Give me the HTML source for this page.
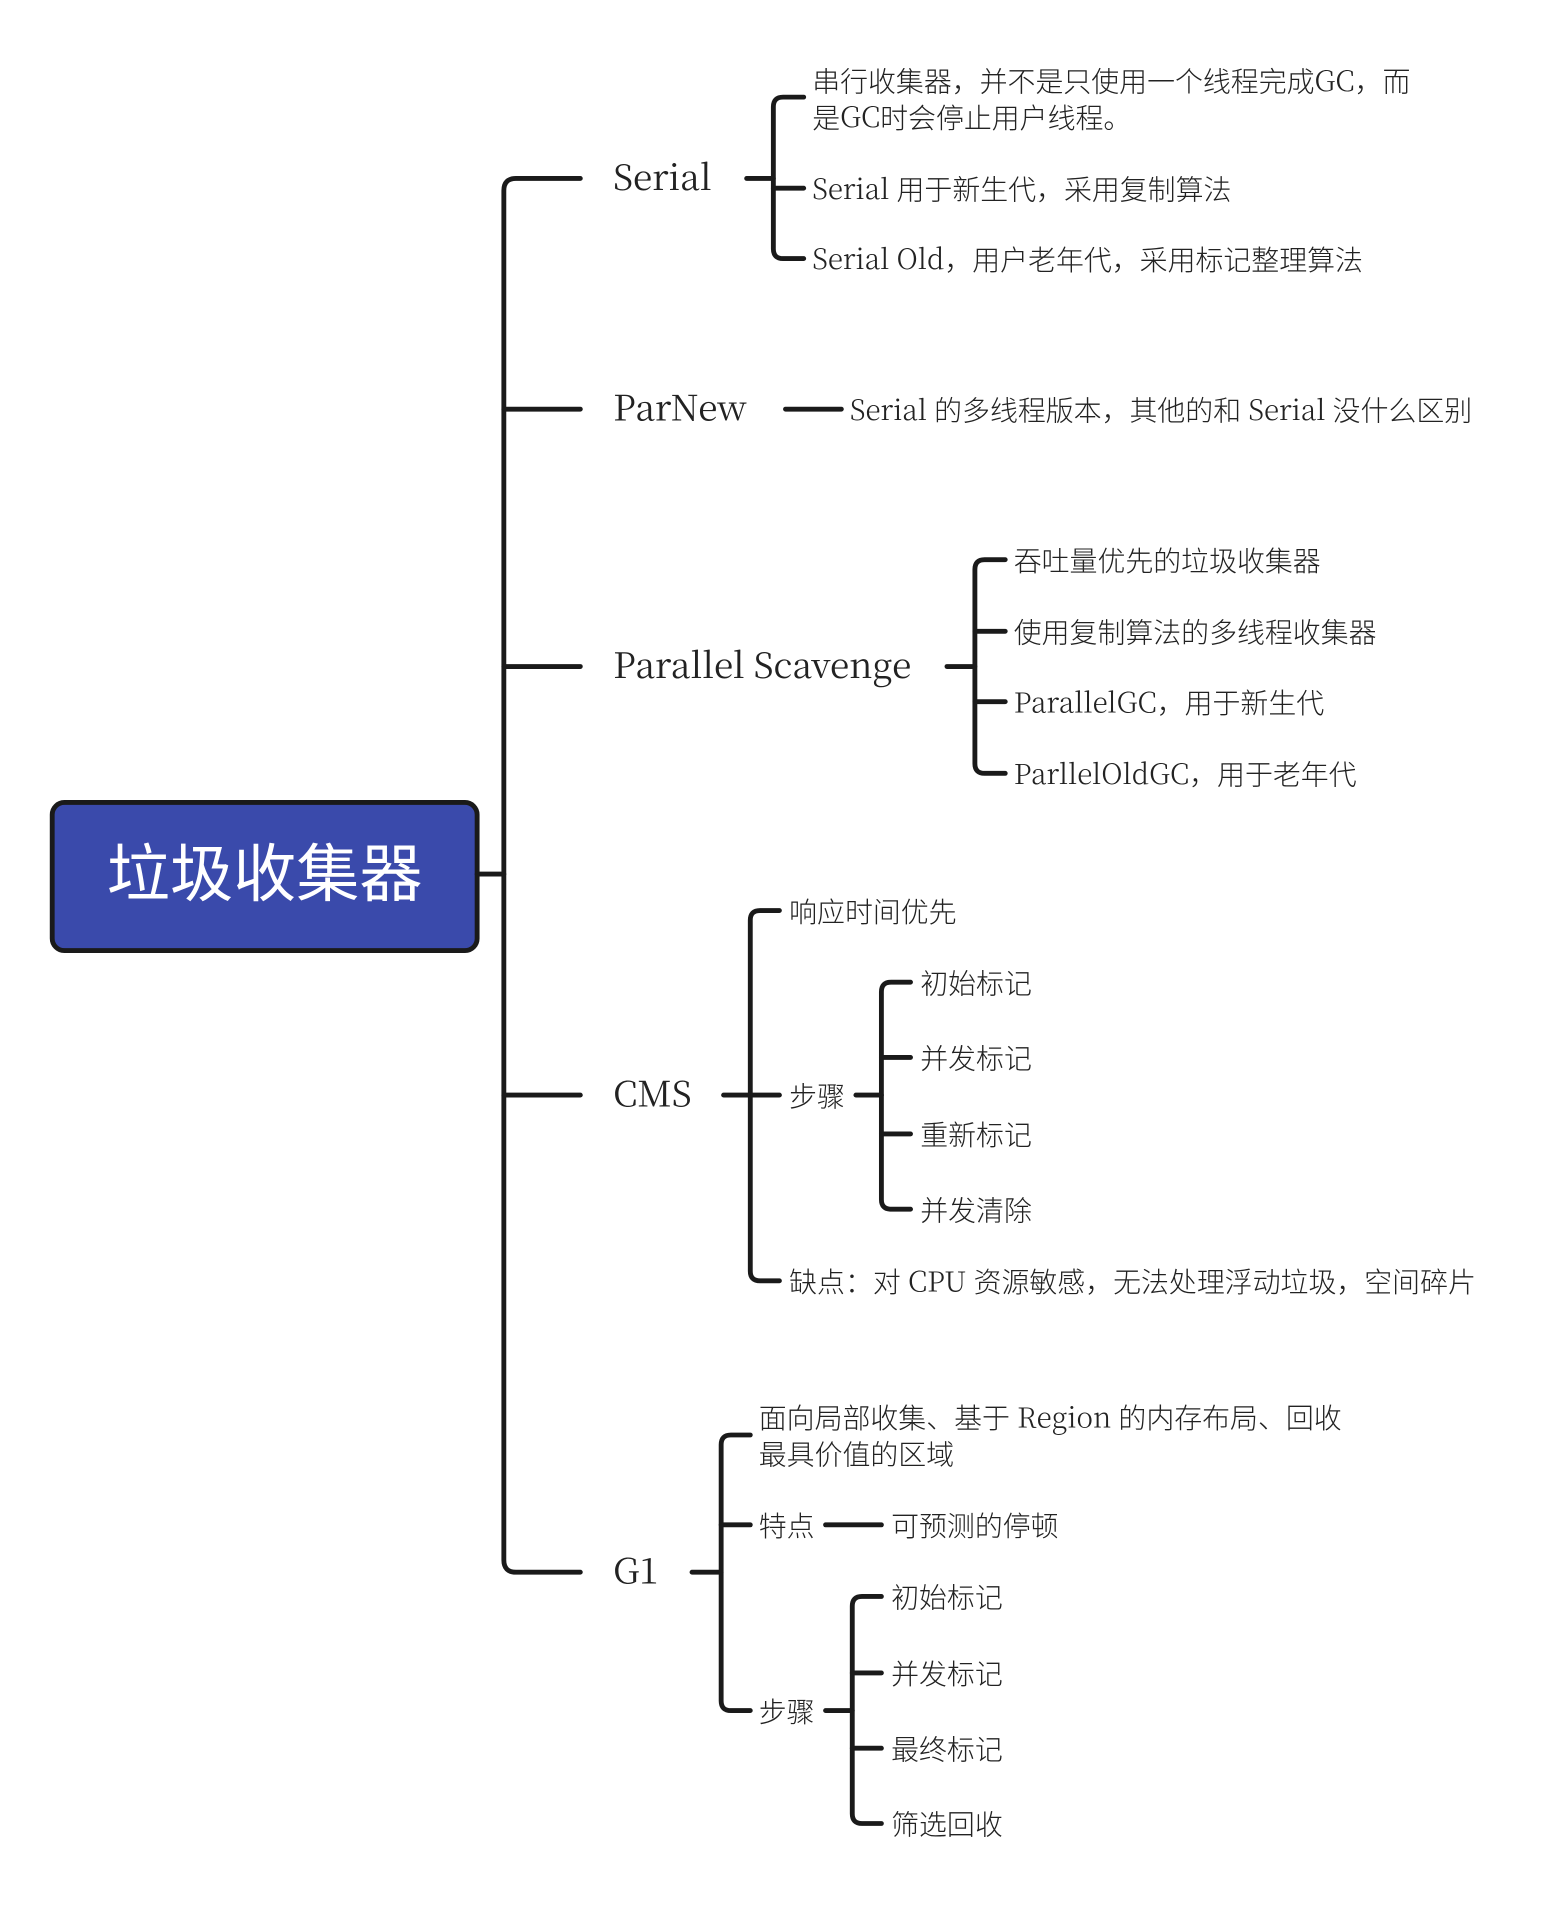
<!DOCTYPE html>
<html><head><meta charset="utf-8"><style>
html,body{margin:0;padding:0;background:#fff;width:1554px;height:1908px;overflow:hidden}
text{font-family:"Noto Sans CJK SC","Liberation Sans",sans-serif;fill:#222;dominant-baseline:middle}
.l,.m{font-family:"Noto Serif CJK SC","Liberation Serif",serif}
.s{font-size:23px;font-weight:300}
.m{font-size:29px}
path,line{stroke:#1a1a1a;stroke-width:4;fill:none;stroke-linecap:round}
</style></head><body>
<svg width="1554" height="1908" viewBox="0 0 1280 1571.6" xmlns="http://www.w3.org/2000/svg">
<rect x="43" y="661" width="350" height="122" rx="10" fill="#3a4aab" stroke="#1a1a1a" stroke-width="4"/>
<text x="218" y="724" text-anchor="middle" style="font-size:52px;fill:#fff">垃圾收集器</text>
<line x1="393" y1="720" x2="415" y2="720"/>
<path d="M478 147 H425 Q415 147 415 157 V1285 Q415 1295 425 1295 H478"/>
<line x1="415" y1="337" x2="478" y2="337"/><line x1="415" y1="549" x2="478" y2="549"/><line x1="415" y1="902" x2="478" y2="902"/>
<g transform="translate(0,2)">
<text class="m" x="505" y="147">Serial</text>
<text class="m" x="505" y="337">ParNew</text>
<text class="m" x="505" y="549">Parallel Scavenge</text>
<text class="m" x="505" y="902">CMS</text>
<text class="m" x="505" y="1295">G1</text>
</g>

<line x1="615" y1="147" x2="637" y2="147"/>
<path d="M662 80 H645 Q637 80 637 88 V205 Q637 213 645 213 H662"/>
<line x1="637" y1="155" x2="662" y2="155"/>
<g transform="translate(0,3)">
<text class="s" x="669" y="66">串行收集器，并不是只使用一个线程完成<tspan class="l">GC</tspan>，而</text>
<text class="s" x="669" y="96">是<tspan class="l">GC</tspan>时会停止用户线程。</text>
<text class="s" x="669" y="155"><tspan class="l">Serial </tspan>用于新生代，采用复制算法</text>
<text class="s" x="669" y="213"><tspan class="l">Serial Old</tspan>，用户老年代，采用标记整理算法</text>
</g>

<line x1="647" y1="337" x2="693" y2="337"/>
<text class="s" x="700" y="340"><tspan class="l">Serial </tspan>的多线程版本，其他的和<tspan class="l"> Serial </tspan>没什么区别</text>

<line x1="780" y1="549" x2="803" y2="549"/>
<path d="M828 461 H811 Q803 461 803 469 V629 Q803 637 811 637 H828"/>
<line x1="803" y1="520" x2="828" y2="520"/><line x1="803" y1="578" x2="828" y2="578"/>
<g transform="translate(0,3)">
<text class="s" x="835" y="461">吞吐量优先的垃圾收集器</text>
<text class="s" x="835" y="520">使用复制算法的多线程收集器</text>
<text class="s" x="835" y="578"><tspan class="l">ParallelGC</tspan>，用于新生代</text>
<text class="s" x="835" y="637"><tspan class="l">ParllelOldGC</tspan>，用于老年代</text>
</g>

<line x1="596" y1="902" x2="618" y2="902"/>
<path d="M642 750 H626 Q618 750 618 758 V1047 Q618 1055 626 1055 H642"/>
<line x1="618" y1="902" x2="642" y2="902"/>
<line x1="705" y1="902" x2="726" y2="902"/>
<path d="M750 809 H734 Q726 809 726 817 V988 Q726 996 734 996 H750"/>
<line x1="726" y1="871" x2="750" y2="871"/><line x1="726" y1="934" x2="750" y2="934"/>
<g transform="translate(0,3)">
<text class="s" x="650" y="750">响应时间优先</text>
<text class="s" x="650" y="902">步骤</text>
<text class="s" x="650" y="1055">缺点：对<tspan class="l"> CPU </tspan>资源敏感，无法处理浮动垃圾，空间碎片</text>
<text class="s" x="758" y="809">初始标记</text>
<text class="s" x="758" y="871">并发标记</text>
<text class="s" x="758" y="934">重新标记</text>
<text class="s" x="758" y="996">并发清除</text>
</g>

<line x1="570" y1="1295" x2="594" y2="1295"/>
<path d="M618 1182 H602 Q594 1182 594 1190 V1401 Q594 1409 602 1409 H618"/>
<line x1="594" y1="1256" x2="618" y2="1256"/>
<line x1="680" y1="1256" x2="726" y2="1256"/>
<line x1="680" y1="1409" x2="702" y2="1409"/>
<path d="M726 1315 H710 Q702 1315 702 1323 V1494 Q702 1502 710 1502 H726"/>
<line x1="702" y1="1378" x2="726" y2="1378"/><line x1="702" y1="1440" x2="726" y2="1440"/>
<g transform="translate(0,3)">
<text class="s" x="625" y="1167">面向局部收集、基于<tspan class="l"> Region </tspan>的内存布局、回收</text>
<text class="s" x="625" y="1197">最具价值的区域</text>
<text class="s" x="625" y="1256">特点</text>
<text class="s" x="734" y="1256">可预测的停顿</text>
<text class="s" x="625" y="1409">步骤</text>
<text class="s" x="734" y="1315">初始标记</text>
<text class="s" x="734" y="1378">并发标记</text>
<text class="s" x="734" y="1440">最终标记</text>
<text class="s" x="734" y="1502">筛选回收</text>
</g>
</svg>
</body></html>
